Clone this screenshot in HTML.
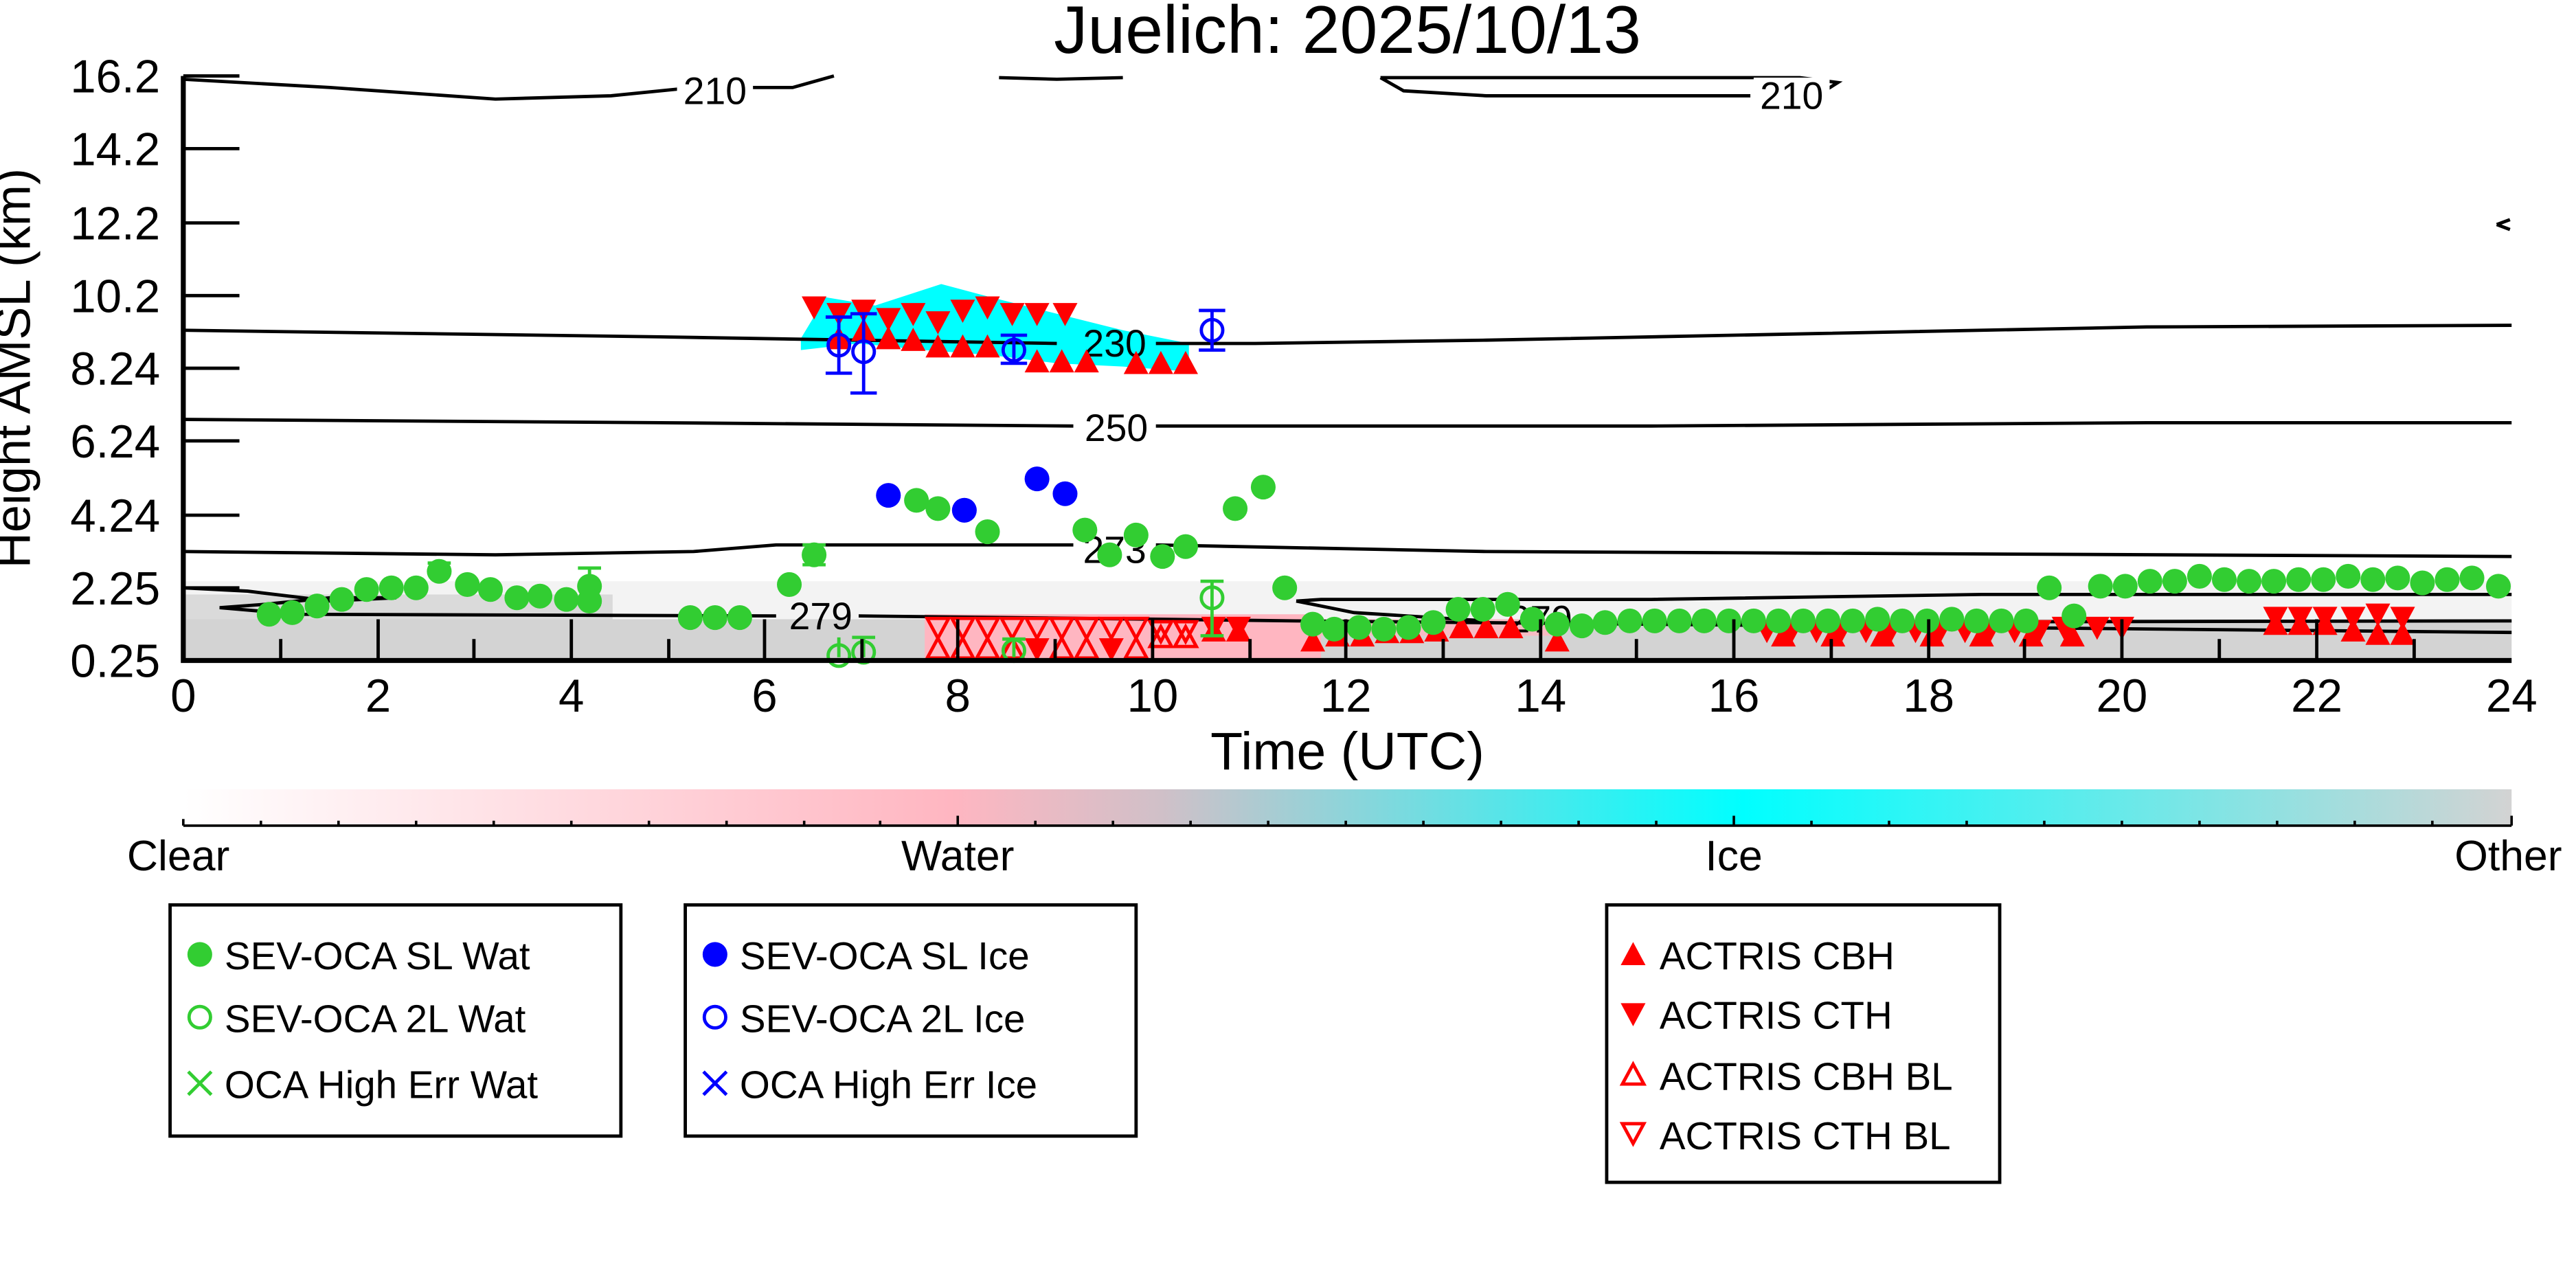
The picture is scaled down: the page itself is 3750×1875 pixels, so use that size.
<!DOCTYPE html>
<html><head><meta charset="utf-8"><style>html,body{margin:0;padding:0;background:#fff}svg{display:block}</style></head><body>
<svg width="3750" height="1875" viewBox="0 0 1560 780" preserveAspectRatio="none" xmlns="http://www.w3.org/2000/svg" font-family="Liberation Sans, sans-serif">
<defs>
<linearGradient id="cb" x1="0" x2="1" y1="0" y2="0">
<stop offset="0" stop-color="#ffffff"/><stop offset="0.33" stop-color="#ffb6c1"/><stop offset="0.42" stop-color="#d0c0c8"/><stop offset="0.67" stop-color="#00ffff"/><stop offset="1" stop-color="#d3d3d3"/></linearGradient>
<circle id="g" r="7.5" fill="#32cd32"/>
<circle id="b" r="7.5" fill="#0000ff"/>
<circle id="go" r="6.5" fill="none" stroke="#32cd32" stroke-width="2"/>
<circle id="bo" r="6.5" fill="none" stroke="#0000ff" stroke-width="2"/>
<path id="tu" d="M-7.5,6.5 L7.5,6.5 L0,-7.5Z" fill="#ff0000"/>
<path id="td" d="M-7.5,-6.5 L7.5,-6.5 L0,7.5Z" fill="#ff0000"/>
<path id="tuo" d="M-6.5,5.5 L6.5,5.5 L0,-6.5Z" fill="none" stroke="#ff0000" stroke-width="2"/>
<path id="tdo" d="M-6.5,-5.5 L6.5,-5.5 L0,6.5Z" fill="none" stroke="#ff0000" stroke-width="2"/>
</defs>
<text x="816" y="32" font-size="41" text-anchor="middle">Juelich: 2025/10/13</text>
<rect x="111" y="352" width="1410" height="48" fill="#ebebeb" opacity="0.6"/>
<rect x="111" y="375" width="1410" height="25" fill="#d3d3d3"/>
<rect x="111" y="360" width="260" height="40" fill="#d3d3d3" opacity="0.8"/>
<rect x="560" y="372" width="240" height="28" fill="#ffb6c1"/>
<rect x="800" y="375" width="140" height="10" fill="#ffb6c1" opacity="0.8"/>
<path d="M485,205 L500,180 L530,185 L570,172 L600,180 L640,190 L680,200 L720,208 L720,225 L680,222 L640,220 L600,215 L560,212 L520,208 L485,212Z" fill="#00ffff"/>
<g fill="none" stroke="#000" stroke-width="2">
<path d="M111,48 L200,53 L300,60 L370,58 L420,53 L410,53 M455,53 L480,53 L505,46"/>
<path d="M605,47 L640,48 L680,47"/>
<path d="M836,47 L850,55 L900,58 L1060,58 M1105,55 L1113,50 L1090,47 L836,47"/>
<path d="M1512,136 L1520,139 M1512,136 L1520,133"/>
<path d="M111,200 L400,204 L640,208 M700,208 L760,208 L900,206 L1100,202 L1300,198 L1521,197"/>
<path d="M111,254 L400,256 L650,258 M700,258 L1000,258 L1300,256 L1521,256"/>
<path d="M111,334 L300,336 L420,334 L470,330 L650,330 M700,330 L900,334 L1100,335 L1521,337"/>
<path d="M111,356 L150,358 L200,364 L240,362 L200,362 L160,366 L133,368 L180,372 L470,373 M520,373 L700,375 L785,376 L1521,383"/>
<path d="M785,364 L800,363 L1000,363 L1200,360 L1521,360"/>
<path d="M785,364 L820,371 L900,376 M950,377 L1521,376"/>
</g>
<g font-size="23" text-anchor="middle">
<rect x="410" y="44" width="46" height="22" fill="#fff"/><text x="433" y="63">210</text>
<rect x="1062" y="47" width="46" height="22" fill="#fff"/><text x="1085" y="66">210</text>
<text x="675" y="216">230</text>
<rect x="653" y="248" width="46" height="22" fill="#fff"/><text x="676" y="267">250</text>
<text x="675" y="341">273</text>
<text x="497" y="381">279</text>
<text x="933" y="383">279</text>
</g>
<g>
<use href="#td" x="493" y="186"/><use href="#td" x="508" y="190"/><use href="#td" x="523" y="188"/><use href="#td" x="538" y="193"/><use href="#td" x="553" y="190"/><use href="#td" x="568" y="195"/><use href="#td" x="583" y="188"/><use href="#td" x="598" y="186"/><use href="#td" x="613" y="190"/><use href="#td" x="628" y="190"/><use href="#td" x="645" y="190"/>
<use href="#tu" x="508" y="205"/><use href="#tu" x="523" y="200"/><use href="#tu" x="538" y="205"/><use href="#tu" x="553" y="206"/><use href="#tu" x="568" y="210"/><use href="#tu" x="583" y="210"/><use href="#tu" x="598" y="210"/><use href="#tu" x="628" y="219"/><use href="#tu" x="643" y="219"/><use href="#tu" x="658" y="219"/><use href="#tu" x="688" y="220"/><use href="#tu" x="703" y="220"/><use href="#tu" x="718" y="220"/>
</g>
<g>
<use href="#tdo" x="568" y="380"/><use href="#tdo" x="583" y="380"/><use href="#tdo" x="598" y="380"/><use href="#tdo" x="613" y="380"/><use href="#tdo" x="628" y="380"/><use href="#tdo" x="643" y="380"/><use href="#tdo" x="658" y="380"/><use href="#tdo" x="673" y="380"/><use href="#tdo" x="688" y="380"/><use href="#tdo" x="703" y="382"/><use href="#tdo" x="718" y="382"/>
<use href="#tuo" x="568" y="393"/><use href="#tuo" x="583" y="393"/><use href="#tuo" x="598" y="393"/><use href="#tuo" x="613" y="393"/><use href="#tuo" x="643" y="393"/><use href="#tuo" x="658" y="393"/><use href="#tuo" x="688" y="393"/><use href="#tuo" x="703" y="386"/><use href="#tuo" x="718" y="386"/>
<use href="#td" x="673" y="393"/><use href="#td" x="628" y="393"/>
<use href="#td" x="735" y="380"/><use href="#td" x="750" y="380"/><use href="#tu" x="735" y="382"/><use href="#tu" x="750" y="382"/>
<use href="#tu" x="795" y="388"/><use href="#tu" x="810" y="385"/><use href="#tu" x="825" y="385"/><use href="#tu" x="840" y="383"/><use href="#tu" x="855" y="383"/><use href="#tu" x="870" y="382"/><use href="#tu" x="885" y="380"/><use href="#tu" x="900" y="380"/><use href="#tu" x="915" y="380"/><use href="#tu" x="943" y="388"/>
<use href="#td" x="1070" y="382"/><use href="#td" x="1085" y="382"/><use href="#td" x="1100" y="382"/><use href="#td" x="1115" y="382"/><use href="#td" x="1130" y="382"/><use href="#td" x="1145" y="382"/><use href="#td" x="1160" y="382"/><use href="#td" x="1175" y="382"/><use href="#td" x="1190" y="382"/><use href="#td" x="1205" y="382"/><use href="#td" x="1220" y="382"/><use href="#td" x="1235" y="382"/><use href="#td" x="1250" y="380"/><use href="#td" x="1270" y="380"/><use href="#td" x="1285" y="380"/>
<use href="#tu" x="1080" y="385"/><use href="#tu" x="1110" y="385"/><use href="#tu" x="1140" y="385"/><use href="#tu" x="1170" y="385"/><use href="#tu" x="1200" y="385"/><use href="#tu" x="1230" y="385"/><use href="#tu" x="1255" y="385"/>
<use href="#td" x="1378" y="374"/><use href="#td" x="1393" y="374"/><use href="#td" x="1408" y="374"/><use href="#tu" x="1378" y="378"/><use href="#tu" x="1393" y="378"/><use href="#tu" x="1408" y="378"/>
<use href="#td" x="1425" y="374"/><use href="#td" x="1440" y="372"/><use href="#td" x="1455" y="374"/><use href="#tu" x="1425" y="382"/><use href="#tu" x="1440" y="384"/><use href="#tu" x="1455" y="384"/>
</g>
<g fill="none" stroke-width="2">
<path stroke="#0000ff" d="M508,192 V226 M500,192 H516 M500,226 H516 M523,190 V238 M515,190 H531 M515,238 H531 M614,203 V220 M606,203 H622 M606,220 H622 M734,188 V212 M726,188 H742 M726,212 H742"/>
<path stroke="#32cd32" d="M493,330 V342 M486,330 H500 M486,342 H500 M357,344 V366 M350,344 H364 M350,366 H364 M266,341 V352 M259,341 H273 M734,352 V385 M727,352 H741 M727,385 H741 M508,386 V398 M523,386 V398 M516,386 H530 M614,387 V398 M607,387 H621"/>
</g>
<g>
<use href="#g" x="163" y="372"/><use href="#g" x="177" y="371"/><use href="#g" x="192" y="367"/><use href="#g" x="207" y="363"/><use href="#g" x="222" y="357"/><use href="#g" x="237" y="356"/><use href="#g" x="252" y="356"/><use href="#g" x="266" y="346"/><use href="#g" x="283" y="354"/><use href="#g" x="297" y="357"/><use href="#g" x="313" y="362"/><use href="#g" x="327" y="361"/><use href="#g" x="343" y="363"/><use href="#g" x="357" y="355"/><use href="#g" x="357" y="364"/><use href="#g" x="418" y="374"/><use href="#g" x="433" y="374"/><use href="#g" x="448" y="374"/><use href="#g" x="478" y="354"/><use href="#g" x="493" y="336"/><use href="#g" x="555" y="303"/><use href="#g" x="568" y="308"/><use href="#g" x="598" y="322"/><use href="#g" x="657" y="321"/><use href="#g" x="672" y="336"/><use href="#g" x="688" y="324"/><use href="#g" x="704" y="337"/><use href="#g" x="718" y="331"/><use href="#g" x="748" y="308"/><use href="#g" x="765" y="295"/><use href="#g" x="778" y="356"/>
<use href="#g" x="795" y="378"/><use href="#g" x="808" y="381"/><use href="#g" x="823" y="380"/><use href="#g" x="838" y="381"/><use href="#g" x="853" y="380"/><use href="#g" x="868" y="377"/><use href="#g" x="883" y="369"/><use href="#g" x="898" y="369"/><use href="#g" x="913" y="366"/><use href="#g" x="928" y="375"/><use href="#g" x="943" y="378"/><use href="#g" x="958" y="379"/><use href="#g" x="972" y="377"/><use href="#g" x="987" y="376"/><use href="#g" x="1002" y="376"/><use href="#g" x="1017" y="376"/><use href="#g" x="1032" y="376"/><use href="#g" x="1047" y="376"/><use href="#g" x="1062" y="376"/><use href="#g" x="1077" y="376"/><use href="#g" x="1092" y="376"/><use href="#g" x="1107" y="376"/><use href="#g" x="1122" y="376"/><use href="#g" x="1137" y="375"/><use href="#g" x="1152" y="376"/><use href="#g" x="1167" y="376"/><use href="#g" x="1182" y="375"/><use href="#g" x="1197" y="376"/><use href="#g" x="1212" y="376"/><use href="#g" x="1227" y="376"/><use href="#g" x="1241" y="356"/><use href="#g" x="1256" y="373"/><use href="#g" x="1272" y="355"/><use href="#g" x="1287" y="355"/><use href="#g" x="1302" y="352"/><use href="#g" x="1317" y="352"/><use href="#g" x="1332" y="349"/><use href="#g" x="1347" y="351"/><use href="#g" x="1362" y="352"/><use href="#g" x="1377" y="352"/><use href="#g" x="1392" y="351"/><use href="#g" x="1407" y="351"/><use href="#g" x="1422" y="349"/><use href="#g" x="1437" y="351"/><use href="#g" x="1452" y="350"/><use href="#g" x="1467" y="353"/><use href="#g" x="1482" y="351"/><use href="#g" x="1497" y="350"/><use href="#g" x="1513" y="355"/>
<use href="#go" x="734" y="362"/><use href="#go" x="508" y="397"/><use href="#go" x="523" y="395"/><use href="#go" x="614" y="394"/>
<use href="#b" x="538" y="300"/><use href="#b" x="584" y="309"/><use href="#b" x="628" y="290"/><use href="#b" x="645" y="299"/>
<use href="#bo" x="508" y="209"/><use href="#bo" x="523" y="213"/><use href="#bo" x="614" y="212"/><use href="#bo" x="734" y="200"/>
</g>
<g stroke="#000" fill="none">
<path d="M111,46 V400 H1521" stroke-width="3"/>
<path stroke-width="2" d="M111,46H145M111,90H145M111,135H145M111,179H145M111,223H145M111,267H145M111,312H145M111,356H145
M229,400V375M346,400V375M463,400V375M580,400V375M698,400V375M815,400V375M933,400V375M1050,400V375M1168,400V375M1285,400V375M1403,400V375
M170,400V387M287,400V387M405,400V387M522,400V387M639,400V387M757,400V387M874,400V387M991,400V387M1109,400V387M1226,400V387M1344,400V387M1462,400V387"/>
</g>
<g font-size="28" text-anchor="end">
<text x="97" y="56">16.2</text><text x="97" y="100">14.2</text><text x="97" y="145">12.2</text><text x="97" y="189">10.2</text><text x="97" y="233">8.24</text><text x="97" y="277">6.24</text><text x="97" y="322">4.24</text><text x="97" y="366">2.25</text><text x="97" y="410">0.25</text>
</g>
<g font-size="28" text-anchor="middle">
<text x="111" y="431">0</text><text x="229" y="431">2</text><text x="346" y="431">4</text><text x="463" y="431">6</text><text x="580" y="431">8</text><text x="698" y="431">10</text><text x="815" y="431">12</text><text x="933" y="431">14</text><text x="1050" y="431">16</text><text x="1168" y="431">18</text><text x="1285" y="431">20</text><text x="1403" y="431">22</text><text x="1521" y="431">24</text>
</g>
<text x="816" y="466" font-size="32" text-anchor="middle">Time (UTC)</text>
<text transform="translate(18,223) rotate(-90)" font-size="30" text-anchor="middle">Height AMSL (km)</text>
<rect x="111" y="478" width="1410" height="22" fill="url(#cb)"/>
<path stroke="#000" stroke-width="1.5" d="M111,500H1521 M111,500v-4 M580,500v-6 M1050,500v-6 M1521,500v-6 M158,500v-3M205,500v-3M252,500v-3M299,500v-3M346,500v-3M393,500v-3M440,500v-3M487,500v-3M533,500v-3M627,500v-3M674,500v-3M721,500v-3M768,500v-3M815,500v-3M862,500v-3M909,500v-3M956,500v-3M1003,500v-3M1097,500v-3M1144,500v-3M1191,500v-3M1238,500v-3M1285,500v-3M1332,500v-3M1379,500v-3M1426,500v-3M1473,500v-3"/>
<g font-size="26" text-anchor="middle"><text x="108" y="527">Clear</text><text x="580" y="527">Water</text><text x="1050" y="527">Ice</text><text x="1519" y="527">Other</text></g>
<g fill="none" stroke="#000" stroke-width="2"><rect x="103" y="548" width="273" height="140"/><rect x="415" y="548" width="273" height="140"/><rect x="973" y="548" width="238" height="168"/></g>
<g font-size="23.5">
<use href="#g" x="121" y="578"/><text x="136" y="587">SEV-OCA SL Wat</text>
<use href="#go" x="121" y="616"/><text x="136" y="625">SEV-OCA 2L Wat</text>
<path d="M114,649l14,14m0,-14l-14,14" stroke="#32cd32" stroke-width="2"/><text x="136" y="665">OCA High Err Wat</text>
<use href="#b" x="433" y="578"/><text x="448" y="587">SEV-OCA SL Ice</text>
<use href="#bo" x="433" y="616"/><text x="448" y="625">SEV-OCA 2L Ice</text>
<path d="M426,649l14,14m0,-14l-14,14" stroke="#0000ff" stroke-width="2"/><text x="448" y="665">OCA High Err Ice</text>
<use href="#tu" x="989" y="578"/><text x="1005" y="587">ACTRIS CBH</text>
<use href="#td" x="989" y="614"/><text x="1005" y="623">ACTRIS CTH</text>
<use href="#tuo" x="989" y="651"/><text x="1005" y="660">ACTRIS CBH BL</text>
<use href="#tdo" x="989" y="686"/><text x="1005" y="696">ACTRIS CTH BL</text>
</g>
</svg>
</body></html>
